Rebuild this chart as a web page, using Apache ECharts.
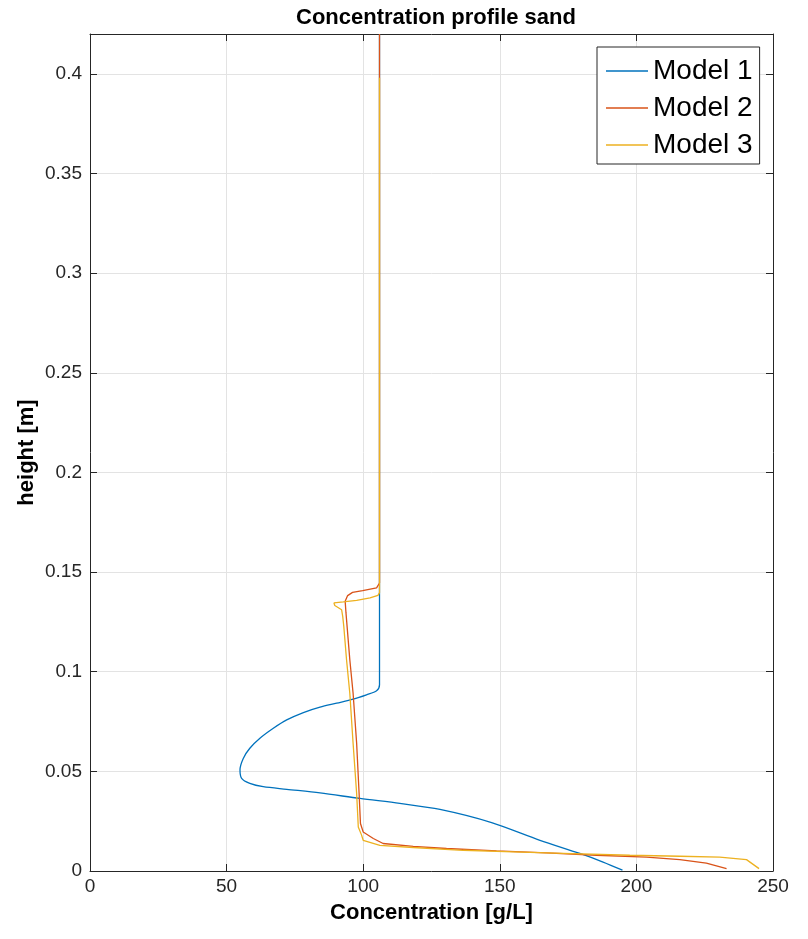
<!DOCTYPE html>
<html>
<head>
<meta charset="utf-8">
<script src="https://cdn.jsdelivr.net/npm/echarts@6/dist/echarts.min.js"></script>
<style>
  html, body { margin: 0; padding: 0; background: #fff; }
  #chart { width: 808px; height: 939px; }
</style>
</head>
<body>
<div id="chart"></div>
<script>
// Sand concentration profiles: concentration [g/L] against height [m]
const model1Conc = [105.97, 105.97, 105.97, 104.9, 101.2, 96.3, 90.3, 84.2, 78.1, 72.0, 67.1, 62.2, 58.5, 56.1, 54.9,
  55.5, 58.5, 63.4, 72.0, 84.2, 98.8, 113.4, 128.1, 147, 164.7, 179.3, 187.8, 194.9];
const model1Height = [0.42, 0.2, 0.0934, 0.0904, 0.0884, 0.0862, 0.0842, 0.0822, 0.0795, 0.0758, 0.0716, 0.0666, 0.0616, 0.0565, 0.0507,
  0.0465, 0.044, 0.0423, 0.041, 0.0392, 0.0364, 0.0339, 0.0309, 0.0243, 0.0154, 0.0088, 0.0045, 0.0004];

const model2Conc = [105.97, 105.97, 104.9, 99.8, 96.1, 94.3, 93.4, 93.7, 95.1, 96.3, 97.6, 98.5, 99.0, 100.0, 103.7,
  107.3, 118.3, 130.5, 148.8, 167.1, 185.4, 203.7, 215.9, 225.6, 233.0];
const model2Height = [0.42, 0.1445, 0.1421, 0.1407, 0.1398, 0.1382, 0.1353, 0.1295, 0.106, 0.0892, 0.0641, 0.0389, 0.0238, 0.0196, 0.0163,
  0.0138, 0.0124, 0.0113, 0.0101, 0.0091, 0.0079, 0.007, 0.0057, 0.004, 0.0012];

const model3Conc = [105.97, 105.97, 105.4, 102.5, 97.6, 92.7, 89.3, 89.6, 92.1, 92.5, 92.9, 93.9, 95.1, 96.3, 97.6, 98.2, 99.4,
  100.0, 106.1, 118.3, 136.6, 154.9, 173.2, 197.6, 215.9, 230.5, 240.3, 244.9];
const model3Height = [0.398, 0.1397, 0.1383, 0.137, 0.1358, 0.135, 0.1345, 0.1332, 0.1311, 0.1278, 0.1227, 0.106, 0.0892, 0.0641, 0.0389, 0.0221, 0.018,
  0.0154, 0.0129, 0.0118, 0.0104, 0.0096, 0.0088, 0.0079, 0.0074, 0.007, 0.0057, 0.0012];

const seriesNames = ['Model 1', 'Model 2', 'Model 3'];
const seriesColors = ['#0072BD', '#D95319', '#EDB120'];
const seriesSmooth = [0.3, false, false];
const xTicks = [0, 50, 100, 150, 200, 250];
const yTicks = [0, 0.05, 0.1, 0.15, 0.2, 0.25, 0.3, 0.35, 0.4];

const FONT = '"Liberation Sans", Arial, Helvetica, sans-serif';
const AXIS_COLOR = '#262626';

function zip(xs, ys) { return xs.map((x, i) => [x, ys[i]]); }

const seriesData = [
  zip(model1Conc, model1Height),
  zip(model2Conc, model2Height),
  zip(model3Conc, model3Height)
];

const baseAxisLine = { show: true, onZero: false, lineStyle: { color: AXIS_COLOR, width: 1 } };
const tickStyle = { show: true, inside: true, length: 7, lineStyle: { color: AXIS_COLOR, width: 1 } };
const gridLine = { show: true, lineStyle: { color: '#e3e3e3', width: 1 } };

const chart = echarts.init(document.getElementById('chart'), null, { renderer: 'canvas' });

chart.setOption({
  animation: false,
  backgroundColor: '#ffffff',
  title: {
    text: 'Concentration profile sand',
    left: 431,
    top: 2,
    textAlign: 'center',
    textStyle: { fontFamily: FONT, fontWeight: 'bold', fontSize: 22, color: '#000' }
  },
  legend: {
    orient: 'vertical',
    left: 597,
    top: 47,
    padding: [9, 7, 4, 9],
    itemGap: 7,
    itemWidth: 42,
    itemHeight: 1.5,
    icon: 'rect',
    backgroundColor: '#ffffff',
    borderColor: AXIS_COLOR,
    borderWidth: 1,
    borderRadius: 0,
    data: seriesNames,
    textStyle: { fontFamily: FONT, fontSize: 28, color: '#000', lineHeight: 30, padding: [0, 0, 0, 0] }
  },
  grid: { left: 90, right: 35, top: 34, bottom: 68, containLabel: false },
  xAxis: [
    {
      type: 'value', position: 'bottom', min: xTicks[0], max: xTicks[xTicks.length - 1], interval: 50,
      name: 'Concentration [g/L]', nameLocation: 'middle', nameGap: 31, nameMoveOverlap: false,
      nameTextStyle: { fontFamily: FONT, fontWeight: 'bold', fontSize: 22, color: '#000' },
      axisLine: baseAxisLine, axisTick: tickStyle, splitLine: gridLine,
      axisLabel: { fontFamily: FONT, fontSize: 19, color: AXIS_COLOR, margin: 6 }
    },
    {
      type: 'value', position: 'top', min: xTicks[0], max: xTicks[xTicks.length - 1], interval: 50,
      axisLine: baseAxisLine, axisTick: tickStyle, splitLine: { show: false }, axisLabel: { show: false }
    }
  ],
  yAxis: [
    {
      type: 'value', position: 'left', min: 0, max: 0.42, interval: 0.05,
      name: 'height [m]', nameLocation: 'middle', nameGap: 52, nameMoveOverlap: false,
      nameTextStyle: { fontFamily: FONT, fontWeight: 'bold', fontSize: 22, color: '#000' },
      axisLine: baseAxisLine, axisTick: tickStyle, splitLine: gridLine,
      axisLabel: {
        fontFamily: FONT, fontSize: 19, color: AXIS_COLOR, margin: 8,
        showMaxLabel: false,
        formatter: v => String(Math.round(v * 100) / 100)
      }
    },
    {
      type: 'value', position: 'right', min: 0, max: 0.42, interval: 0.05,
      axisLine: baseAxisLine, axisTick: tickStyle, splitLine: { show: false }, axisLabel: { show: false }
    }
  ],
  series: seriesNames.map((name, i) => ({
    name: name,
    type: 'line',
    xAxisIndex: 0,
    yAxisIndex: 0,
    data: seriesData[i],
    showSymbol: false,
    symbol: 'none',
    smooth: seriesSmooth[i],
    color: seriesColors[i],
    lineStyle: { color: seriesColors[i], width: 1.3 },
    z: 2 + i
  }))
});
</script>
</body>
</html>
